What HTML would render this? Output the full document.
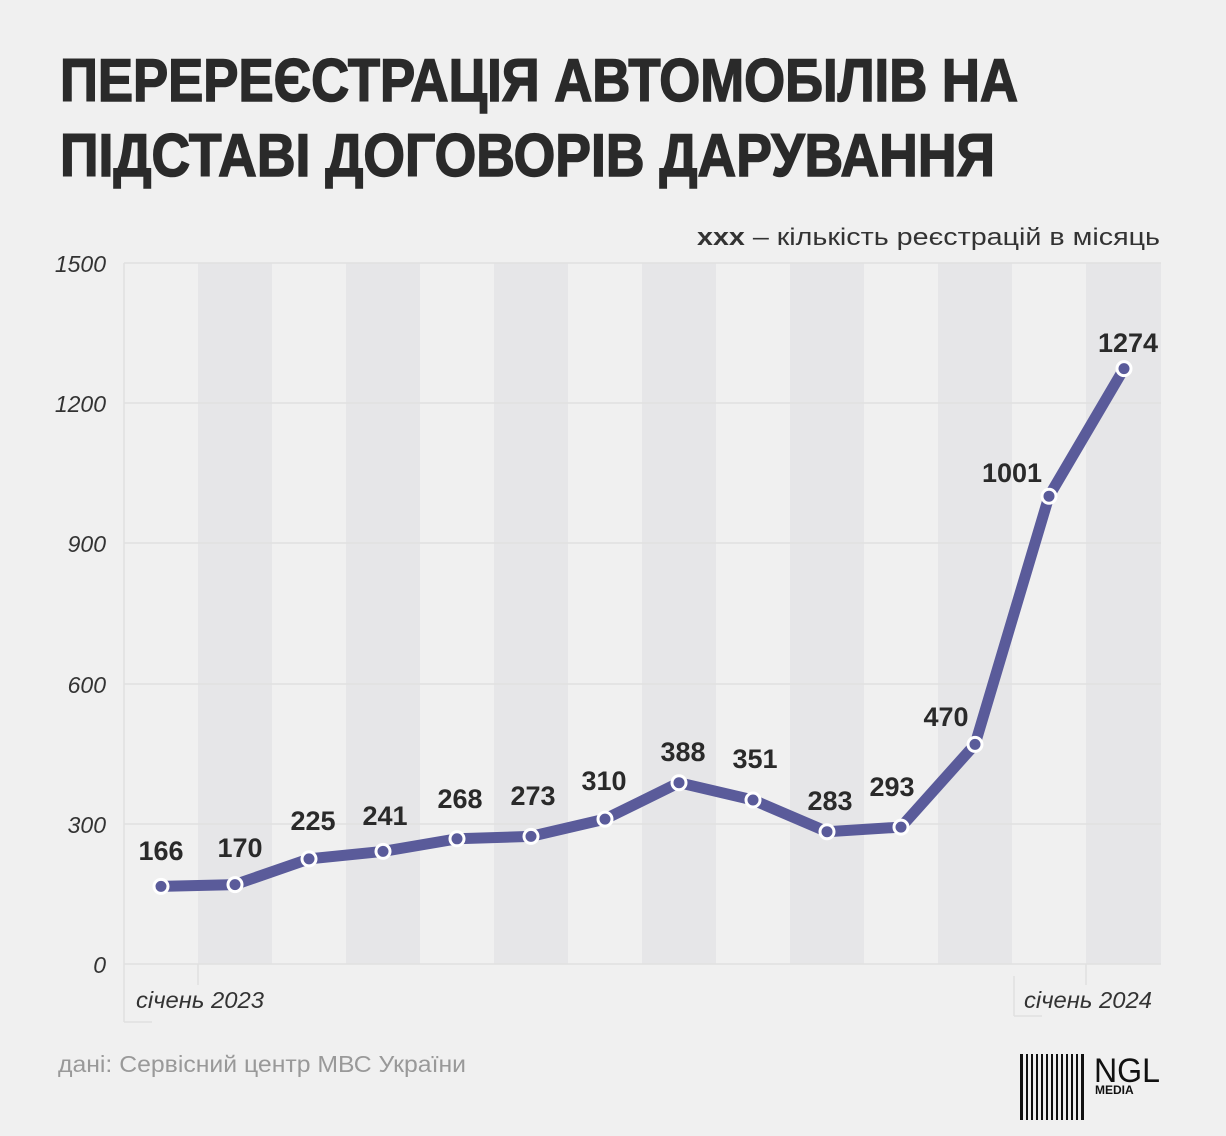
<!DOCTYPE html>
<html><head><meta charset="utf-8"><style>
html,body{margin:0;padding:0;background:#f0f0f0;}
svg{display:block}
</style></head><body>
<svg width="1226" height="1136" viewBox="0 0 1226 1136" xmlns="http://www.w3.org/2000/svg" font-family="Liberation Sans, DejaVu Sans, sans-serif">
<rect width="1226" height="1136" fill="#f0f0f0"/>
<g font-weight="bold" font-size="60" fill="#2a2a2a" stroke="#2a2a2a" stroke-width="1.5">
<text x="60" y="101" textLength="958" lengthAdjust="spacingAndGlyphs">ПЕРЕРЕЄСТРАЦІЯ АВТОМОБІЛІВ НА</text>
<text x="60" y="176" textLength="935" lengthAdjust="spacingAndGlyphs">ПІДСТАВІ ДОГОВОРІВ ДАРУВАННЯ</text>
</g>
<text x="1160" y="245" text-anchor="end" font-size="24" fill="#333" textLength="463" lengthAdjust="spacingAndGlyphs"><tspan font-weight="bold">xxx</tspan> – кількість реєстрацій в місяць</text>
<g fill="#e6e6e8">
<rect x="198" y="263" width="74" height="701"/><rect x="346" y="263" width="74" height="701"/>
<rect x="494" y="263" width="74" height="701"/><rect x="642" y="263" width="74" height="701"/>
<rect x="790" y="263" width="74" height="701"/><rect x="938" y="263" width="74" height="701"/>
<rect x="1086" y="263" width="75" height="701"/>
</g>
<g stroke="#e0e0e0" stroke-width="1.5">
<line x1="124" y1="263" x2="1161" y2="263"/><line x1="124" y1="403" x2="1161" y2="403"/>
<line x1="124" y1="543" x2="1161" y2="543"/><line x1="124" y1="684" x2="1161" y2="684"/>
<line x1="124" y1="824" x2="1161" y2="824"/><line x1="124" y1="964" x2="1161" y2="964"/>
<line x1="124" y1="263" x2="124" y2="1022"/><line x1="124" y1="1022" x2="152" y2="1022"/>
<line x1="198" y1="964" x2="198" y2="985"/>
<line x1="1014" y1="976" x2="1014" y2="1016"/><line x1="1014" y1="1016" x2="1042" y2="1016"/>
<line x1="1086" y1="964" x2="1086" y2="985"/>
</g>
<g font-size="23" font-style="italic" fill="#333" text-anchor="end">
<text x="106" y="272">1500</text><text x="106" y="412">1200</text><text x="106" y="552">900</text>
<text x="106" y="693">600</text><text x="106" y="833">300</text><text x="106" y="973">0</text>
</g>
<text x="136" y="1008" font-size="23" font-style="italic" fill="#333" textLength="128" lengthAdjust="spacingAndGlyphs">січень 2023</text>
<text x="1024" y="1008" font-size="23" font-style="italic" fill="#333" textLength="128" lengthAdjust="spacingAndGlyphs">січень 2024</text>
<polyline fill="none" stroke="#5a5b9a" stroke-width="11" stroke-linejoin="round" stroke-linecap="round"
points="161,886.4 235,884.6 309,858.9 383,851.4 457,838.8 531,836.4 605,819.1 679,782.7 753,800 827,831.7 901,827.1 975,744.4 1049,496.2 1124,368.6"/>
<g fill="#5a5b9a" stroke="#fff" stroke-width="3">
<circle cx="161" cy="886.4" r="7"/><circle cx="235" cy="884.6" r="7"/><circle cx="309" cy="858.9" r="7"/>
<circle cx="383" cy="851.4" r="7"/><circle cx="457" cy="838.8" r="7"/><circle cx="531" cy="836.4" r="7"/>
<circle cx="605" cy="819.1" r="7"/><circle cx="679" cy="782.7" r="7"/><circle cx="753" cy="800" r="7"/>
<circle cx="827" cy="831.7" r="7"/><circle cx="901" cy="827.1" r="7"/><circle cx="975" cy="744.4" r="7"/>
<circle cx="1049" cy="496.2" r="7"/><circle cx="1124" cy="368.6" r="7"/>
</g>
<g font-size="27" font-weight="bold" fill="#2a2a2a" text-anchor="middle">
<text x="161" y="860">166</text><text x="240" y="857">170</text><text x="313" y="830">225</text>
<text x="385" y="825">241</text><text x="460" y="808">268</text><text x="533" y="805">273</text>
<text x="604" y="790">310</text><text x="683" y="761">388</text><text x="755" y="768">351</text>
<text x="830" y="810">283</text><text x="892" y="796">293</text><text x="946" y="726">470</text>
<text x="1012" y="482">1001</text><text x="1128" y="352">1274</text>
</g>
<text x="58" y="1072" font-size="23" fill="#999" textLength="408" lengthAdjust="spacingAndGlyphs">дані: Сервісний центр МВС України</text>
<g fill="#111">
<rect x="1020" y="1054" width="3" height="66"/><rect x="1026" y="1054" width="2" height="66"/>
<rect x="1031" y="1054" width="2" height="66"/><rect x="1036" y="1054" width="2" height="66"/>
<rect x="1041" y="1054" width="2" height="66"/><rect x="1046" y="1054" width="2" height="66"/>
<rect x="1051" y="1054" width="2" height="66"/><rect x="1056" y="1054" width="2" height="66"/>
<rect x="1061" y="1054" width="2" height="66"/><rect x="1066" y="1054" width="2" height="66"/>
<rect x="1071" y="1054" width="2" height="66"/><rect x="1076" y="1054" width="2" height="66"/>
<rect x="1081" y="1054" width="3" height="66"/>
</g>
<text x="1094" y="1082" font-size="34" fill="#111" textLength="66" lengthAdjust="spacingAndGlyphs">NGL</text>
<text x="1095" y="1094" font-size="12" font-weight="bold" fill="#111">MEDIA</text>
</svg>
</body></html>
